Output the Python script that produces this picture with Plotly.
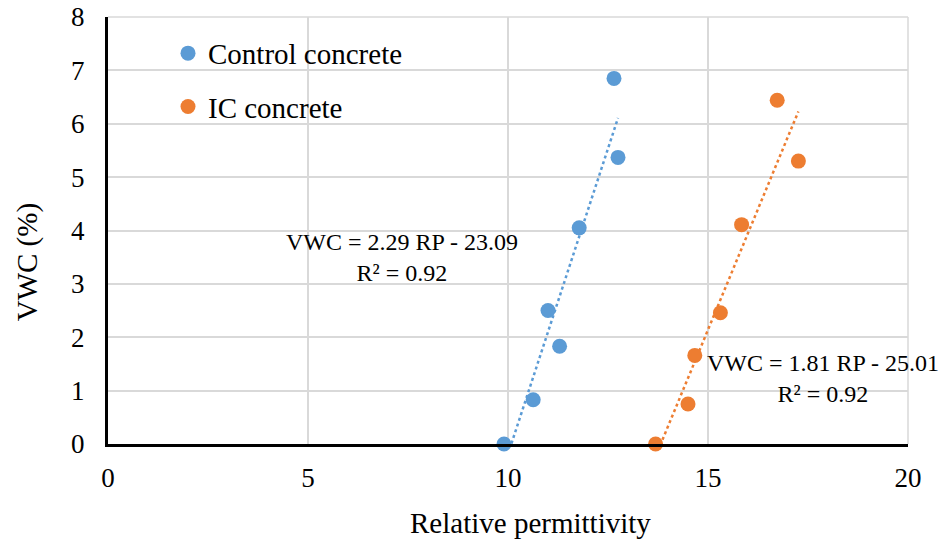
import plotly.graph_objects as go

# Data
control_rp = [9.90, 10.63, 11.00, 11.29, 11.78, 12.65, 12.75]
control_vwc = [0.00, 0.83, 2.50, 1.83, 4.05, 6.85, 5.37]
ic_rp = [13.69, 14.50, 14.67, 15.31, 15.84, 16.73, 17.26]
ic_vwc = [0.00, 0.75, 1.66, 2.46, 4.11, 6.44, 5.30]

# Linear trendline coefficients shown on the chart
control_fit = (2.29, -23.09)
ic_fit = (1.81, -25.01)

x_ticks = [0, 5, 10, 15, 20]
y_ticks = [0, 1, 2, 3, 4, 5, 6, 7, 8]

BLUE = "#5B9BD5"
ORANGE = "#ED7D31"
FONT = "Liberation Serif"


def fit_line(xs, coef):
    x0, x1 = min(xs), max(xs)
    return [x0, x1], [coef[0] * x0 + coef[1], coef[0] * x1 + coef[1]]


fig = go.Figure()

cx, cy = fit_line(control_rp, control_fit)
ix, iy = fit_line(ic_rp, ic_fit)

fig.add_trace(go.Scatter(x=cx, y=cy, mode="lines", showlegend=False,
                         line=dict(color=BLUE, width=2.5, dash="dot"), hoverinfo="skip"))
fig.add_trace(go.Scatter(x=ix, y=iy, mode="lines", showlegend=False,
                         line=dict(color=ORANGE, width=2.5, dash="dot"), hoverinfo="skip"))

fig.add_trace(go.Scatter(x=control_rp, y=control_vwc, mode="markers", name="Control concrete",
                         marker=dict(color=BLUE, size=15), cliponaxis=False, legend="legend"))
fig.add_trace(go.Scatter(x=ic_rp, y=ic_vwc, mode="markers", name="IC concrete",
                         marker=dict(color=ORANGE, size=15), cliponaxis=False, legend="legend2"))

ann_font = dict(family=FONT, size=24, color="#000000")
fig.add_annotation(x=7.34, y=3.49, xref="x", yref="y", showarrow=False, align="center",
                   text=f"VWC = {control_fit[0]:.2f} RP - {abs(control_fit[1]):.2f}<br>R² = 0.92",
                   font=ann_font, xanchor="center", yanchor="middle")
fig.add_annotation(x=17.87, y=1.23, xref="x", yref="y", showarrow=False, align="center",
                   text=f"VWC = {ic_fit[0]:.2f} RP - {abs(ic_fit[1]):.2f}<br>R² = 0.92",
                   font=ann_font, xanchor="center", yanchor="middle")

# axis titles
title_font = dict(family=FONT, size=29, color="#000000")
fig.add_annotation(x=0.528, y=-0.185, xref="paper", yref="paper", showarrow=False,
                   text="Relative permittivity", font=title_font, xanchor="center", yanchor="middle")
fig.add_annotation(x=-0.101, y=0.426, xref="paper", yref="paper", showarrow=False, textangle=-90,
                   text="VWC (%)", font=title_font, xanchor="center", yanchor="middle")

legend_common = dict(font=dict(family=FONT, size=29, color="#000000"), bgcolor="rgba(0,0,0,0)",
                     xanchor="left", yanchor="middle", itemsizing="trace", itemwidth=30)
fig.update_layout(
    width=943, height=542,
    margin=dict(l=108, r=35, t=17, b=98),
    paper_bgcolor="white", plot_bgcolor="white",
    font=dict(family=FONT, size=26, color="#000000"),
    legend=dict(x=0.075, y=0.915, **legend_common),
    legend2=dict(x=0.075, y=0.79, **legend_common),
    xaxis=dict(range=[0, 20], tickvals=x_ticks, showgrid=True, gridcolor="#D9D9D9", gridwidth=1.5,
               showline=True, linecolor="#000000", linewidth=3, zeroline=False, mirror=False,
               ticks="", tickfont=dict(family=FONT, size=27, color="#000000"), ticklabelstandoff=8,
               ticklabeloverflow="allow", automargin=False),
    yaxis=dict(range=[0, 8], tickvals=y_ticks, showgrid=True, gridcolor="#D9D9D9", gridwidth=1.5,
               showline=True, linecolor="#000000", linewidth=3, zeroline=False,
               ticks="", tickfont=dict(family=FONT, size=27, color="#000000"), ticklabelstandoff=15,
               ticklabeloverflow="allow", automargin=False),
    shapes=[dict(type="line", xref="paper", yref="paper", x0=0, x1=1, y0=1, y1=1,
                 line=dict(color="#D9D9D9", width=1.5), layer="below"),
            dict(type="line", xref="paper", yref="paper", x0=1, x1=1, y0=0, y1=1,
                 line=dict(color="#D9D9D9", width=1.5), layer="below")],
)

fig.write_html("out.html", config={"displayModeBar": False},
               post_script="document.body.style.margin='0';document.body.style.overflow='hidden';")
